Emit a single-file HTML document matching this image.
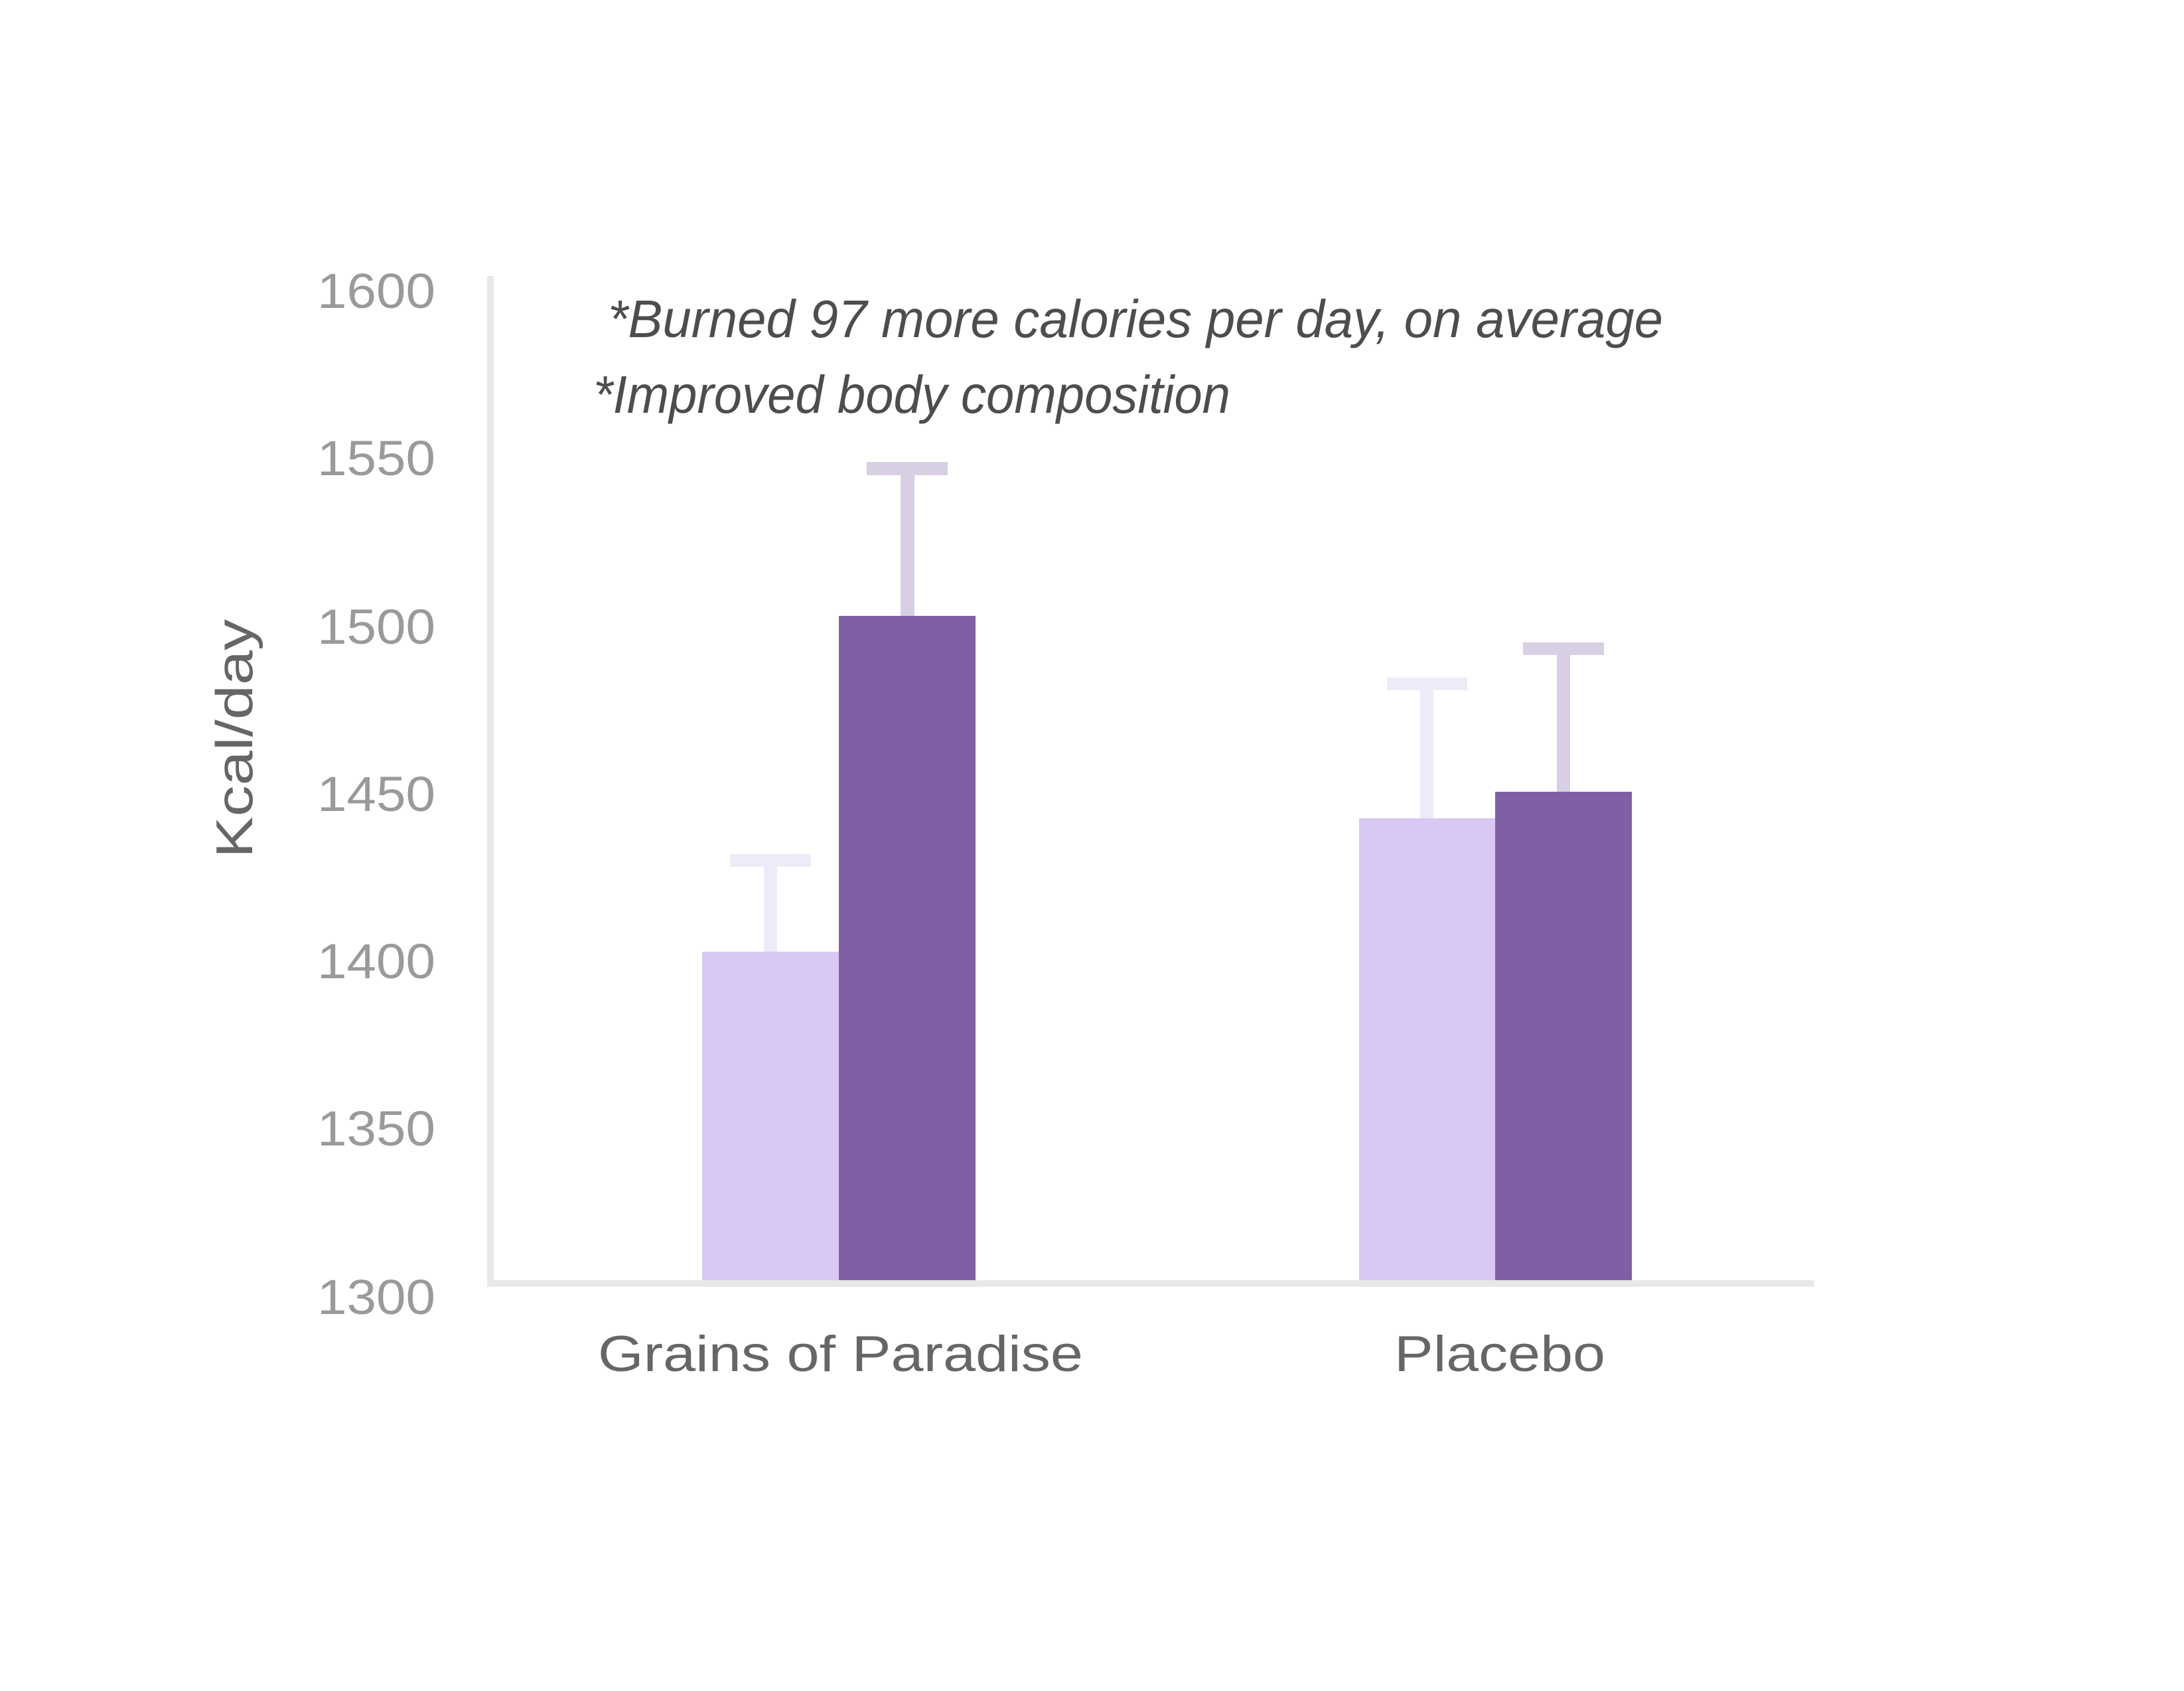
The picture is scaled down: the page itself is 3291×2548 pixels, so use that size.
<!DOCTYPE html>
<html><head><meta charset="utf-8"><style>
html,body{margin:0;padding:0;background:#fff}
svg{display:block}
</style></head><body>
<svg width="3291" height="2548" viewBox="0 0 3291 2548" xmlns="http://www.w3.org/2000/svg">
<rect width="3291" height="2548" fill="#fff"/>
<rect x="1058" y="1434" width="206" height="496" fill="#d8c8f3"/>
<rect x="1264" y="928" width="206" height="1002" fill="#7f60a5"/>
<rect x="2048" y="1233" width="205" height="697" fill="#d8c8f3"/>
<rect x="2253" y="1193" width="206" height="737" fill="#7f60a5"/>
<rect x="1151" y="1300" width="20" height="134" fill="#efeaf8"/>
<rect x="1100" y="1287" width="122" height="19" fill="#efeaf8"/>
<rect x="1357" y="710" width="21" height="218" fill="#d8cfe4"/>
<rect x="1306" y="696" width="122" height="20" fill="#d8cfe4"/>
<rect x="2140" y="1034" width="20" height="199" fill="#efeaf8"/>
<rect x="2090" y="1021" width="121" height="19" fill="#efeaf8"/>
<rect x="2346" y="981" width="20" height="212" fill="#d8cfe4"/>
<rect x="2295" y="968" width="122" height="19" fill="#d8cfe4"/>
<rect x="734" y="416" width="10" height="1523" fill="#e8e8e8"/>
<rect x="734" y="1929" width="2000" height="10" fill="#e8e8e8"/>
<g font-family="Liberation Sans, sans-serif" font-size="74" fill="#9a9a9a">
<text x="478" y="464" textLength="178" lengthAdjust="spacingAndGlyphs">1600</text>
<text x="478" y="716" textLength="178" lengthAdjust="spacingAndGlyphs">1550</text>
<text x="478" y="970" textLength="178" lengthAdjust="spacingAndGlyphs">1500</text>
<text x="478" y="1222" textLength="178" lengthAdjust="spacingAndGlyphs">1450</text>
<text x="478" y="1474" textLength="178" lengthAdjust="spacingAndGlyphs">1400</text>
<text x="478" y="1726" textLength="178" lengthAdjust="spacingAndGlyphs">1350</text>
<text x="478" y="1980" textLength="178" lengthAdjust="spacingAndGlyphs">1300</text>
</g>
<text transform="translate(380,1113) rotate(-90)" font-family="Liberation Sans, sans-serif" font-size="78" fill="#666" text-anchor="middle" textLength="360" lengthAdjust="spacingAndGlyphs">Kcal/day</text>
<g font-family="Liberation Sans, sans-serif" font-size="76" fill="#666">
<text x="901" y="2066" textLength="731" lengthAdjust="spacingAndGlyphs">Grains of Paradise</text>
<text x="2101" y="2066" textLength="318" lengthAdjust="spacingAndGlyphs">Placebo</text>
</g>
<g font-family="Liberation Sans, sans-serif" font-style="italic" font-size="80" fill="#4d4d4d">
<text x="916" y="508" textLength="1590" lengthAdjust="spacingAndGlyphs">*Burned 97 more calories per day, on average</text>
<text x="894" y="622" textLength="960" lengthAdjust="spacingAndGlyphs">*Improved body composition</text>
</g>
</svg>
</body></html>
